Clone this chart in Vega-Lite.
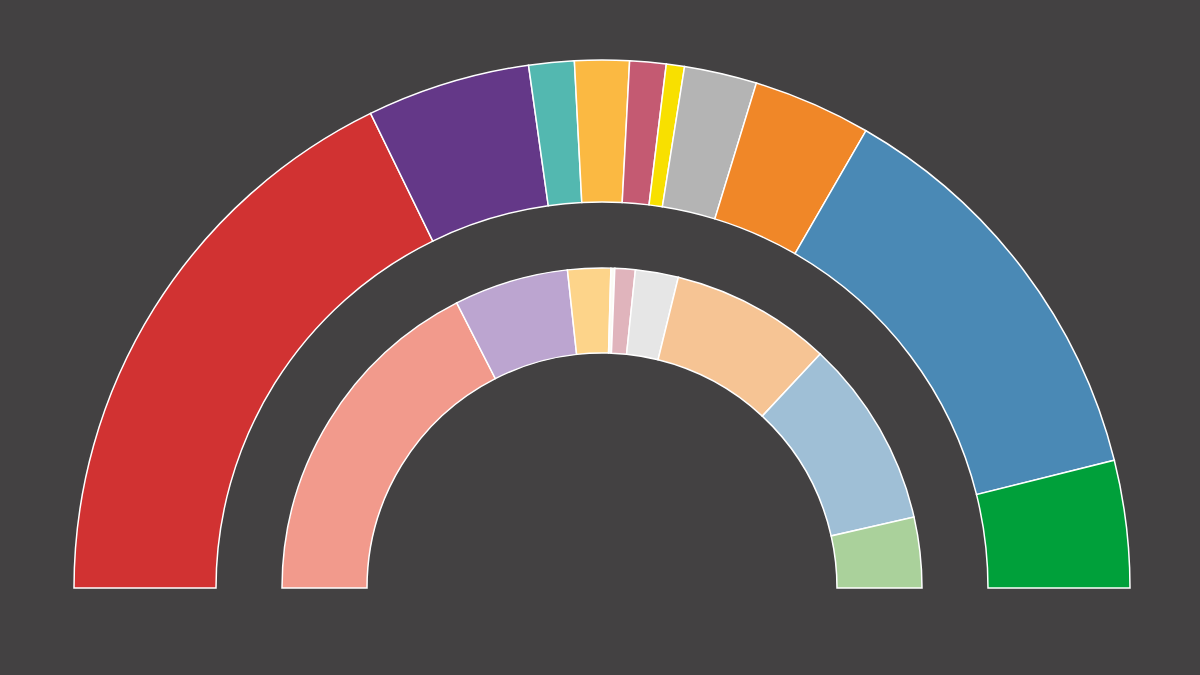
{
  "$schema": "https://vega.github.io/schema/vega-lite/v6.json",
  "autosize": {"type": "none"},
  "width": 1196,
  "height": 174,
  "padding": {"left": 4, "top": 501, "right": 0, "bottom": 0},
  "background": "#434142",
  "view": {"stroke": null},
  "datasets": {
    "outer": [
      {"party": "A", "order": 1, "value": 64, "color": "#d13232"},
      {"party": "B", "order": 2, "value": 18, "color": "#643888"},
      {"party": "C", "order": 3, "value": 5, "color": "#53b8b0"},
      {"party": "D", "order": 4, "value": 6, "color": "#fbb942"},
      {"party": "E", "order": 5, "value": 4, "color": "#c45a72"},
      {"party": "F", "order": 6, "value": 2, "color": "#f8e000"},
      {"party": "G", "order": 7, "value": 8, "color": "#b4b4b4"},
      {"party": "H", "order": 8, "value": 13, "color": "#f08728"},
      {"party": "I", "order": 9, "value": 46, "color": "#4a89b5"},
      {"party": "J", "order": 10, "value": 14, "color": "#00a03a"}
    ],
    "inner": [
      {"party": "A", "order": 1, "value": 63, "color": "#f29a8c"},
      {"party": "B", "order": 2, "value": 20.8, "color": "#bca5d0"},
      {"party": "D", "order": 3, "value": 7.8, "color": "#fdd48a"},
      {"party": "F", "order": 4, "value": 0.7, "color": "#fbfbf5"},
      {"party": "E", "order": 5, "value": 3.7, "color": "#e0b4bc"},
      {"party": "G", "order": 6, "value": 7.8, "color": "#e6e6e6"},
      {"party": "H", "order": 7, "value": 29.2, "color": "#f6c494"},
      {"party": "I", "order": 8, "value": 34.2, "color": "#9fbfd6"},
      {"party": "J", "order": 9, "value": 12.8, "color": "#aad19b"}
    ]
  },
  "layer": [
    {
      "data": {"name": "outer"},
      "mark": {"type": "arc", "radius": 528, "radius2": 386, "stroke": "#ffffff", "strokeWidth": 1.5},
      "encoding": {
        "theta": {"field": "value", "type": "quantitative", "stack": true, "scale": {"range": [-1.5707963, 1.5707963]}},
        "order": {"field": "order", "type": "quantitative"},
        "color": {"field": "color", "type": "nominal", "scale": null, "legend": null}
      }
    },
    {
      "data": {"name": "inner"},
      "mark": {"type": "arc", "radius": 320, "radius2": 235, "stroke": "#ffffff", "strokeWidth": 1.5},
      "encoding": {
        "theta": {"field": "value", "type": "quantitative", "stack": true, "scale": {"range": [-1.5707963, 1.5707963]}},
        "order": {"field": "order", "type": "quantitative"},
        "color": {"field": "color", "type": "nominal", "scale": null, "legend": null}
      }
    }
  ],
  "resolve": {"scale": {"theta": "independent"}}
}
